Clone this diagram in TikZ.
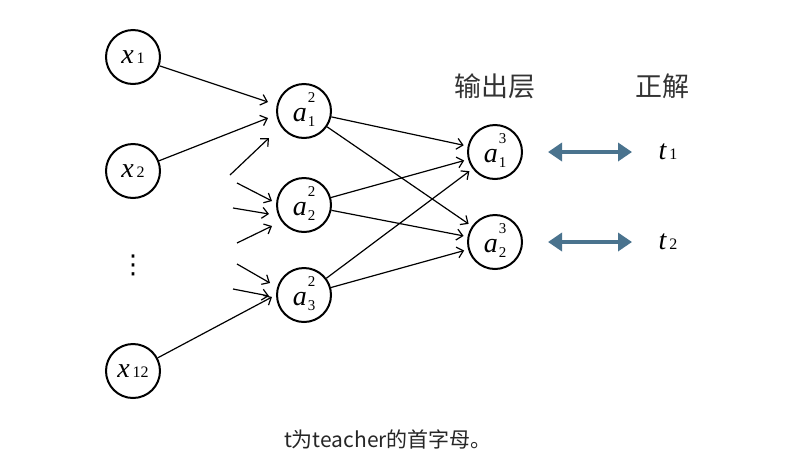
\documentclass[tikz,border=0pt]{standalone}
\usepackage{fontspec}
\setmainfont{Liberation Serif}
\newfontfamily\cjk{Noto Sans CJK SC}
\newfontfamily\dejavu{DejaVu Sans}
\usetikzlibrary{arrows.meta}
\newcommand{\nrn}[3]{{\itshape #1}\kern1pt\raisebox{-5pt}{\fontsize{15}{15}\selectfont\begin{tabular}[b]{@{}c@{}}#2\\[9pt]#3\end{tabular}}}
\newcommand{\xin}[2]{{\itshape #1}\kern3pt{\fontsize{16}{16}\selectfont #2}}
\begin{document}
\begin{tikzpicture}[x=1pt,y=-1pt,
  neuron/.style={circle,draw,line width=2pt,minimum size=54pt,inner sep=0pt,font=\fontsize{28}{30}\selectfont},
  conn/.style={line width=1.2pt,-{Straight Barb[length=6pt,width=11pt,line width=1.2pt]}},
  big/.style={line width=4.5pt,draw={rgb,255:red,74;green,115;blue,142},{Triangle[length=14pt,width=18pt]}-{Triangle[length=14pt,width=18pt]}}]
\useasboundingbox (0,0) rectangle (797,464);
\node[neuron] (x1) at (133,57) {\xin{x}{1}};
\node[neuron] (x2) at (133,171) {\xin{x}{2}};
\node[neuron] (x12) at (133,371) {\xin{x}{12}};
\node[font=\dejavu\fontsize{26}{26}\selectfont,inner sep=0pt] (dots) at (133,265) {⋮};
\node[neuron] (h1) at (304,111) {\nrn{a}{2}{1}};
\node[neuron] (h2) at (304,205) {\nrn{a}{2}{2}};
\node[neuron] (h3) at (304,295) {\nrn{a}{2}{3}};
\node[neuron] (o1) at (495,152) {\nrn{a}{3}{1}};
\node[neuron] (o2) at (495,242) {\nrn{a}{3}{2}};
\node[font=\fontsize{28}{30}\selectfont] (t1) at (668,152) {\xin{t}{1}};
\node[font=\fontsize{28}{30}\selectfont] (t2) at (668,242) {\xin{t}{2}};
\node[font=\cjk\fontsize{27}{30}\selectfont,text=black!80] (lout) at (495,86) {输出层};
\node[font=\cjk\fontsize{27}{30}\selectfont,text=black!80] (lans) at (662,86) {正解};
\node[font=\cjk\fontsize{21}{24}\selectfont,text=black!85] (cap) at (388,439) {t为teacher的首字母。};
% inputs
\coordinate (e1) at (268,102);
\coordinate (e2) at (268,118);
\coordinate (e3) at (272,297);
\draw[conn] (x1) -- (e1);
\draw[conn] (x2) -- (e2);
\draw[conn] (x12) -- (e3);
% stubs
\coordinate (a1) at (230,175); \coordinate (b1) at (269,138);
\coordinate (a2) at (237,183); \coordinate (b2) at (272,201);
\coordinate (a3) at (233,208); \coordinate (b3) at (269,214);
\coordinate (a4) at (237,243); \coordinate (b4) at (272,226);
\coordinate (a5) at (237,264); \coordinate (b5) at (270,283);
\coordinate (a6) at (233,289); \coordinate (b6) at (269,296);
\foreach \i in {1,...,6} \draw[conn] (a\i) -- (b\i);
% hidden to output
\foreach \h in {h1,h2,h3} \foreach \o in {o1,o2} \draw[conn,shorten >=4pt] (\h) -- (\o);
% double arrows
\coordinate (d1a) at (548,152); \coordinate (d1b) at (632,152);
\coordinate (d2a) at (548,242); \coordinate (d2b) at (632,242);
\draw[big] (d1a) -- (d1b);
\draw[big] (d2a) -- (d2b);
\end{tikzpicture}
\end{document}
